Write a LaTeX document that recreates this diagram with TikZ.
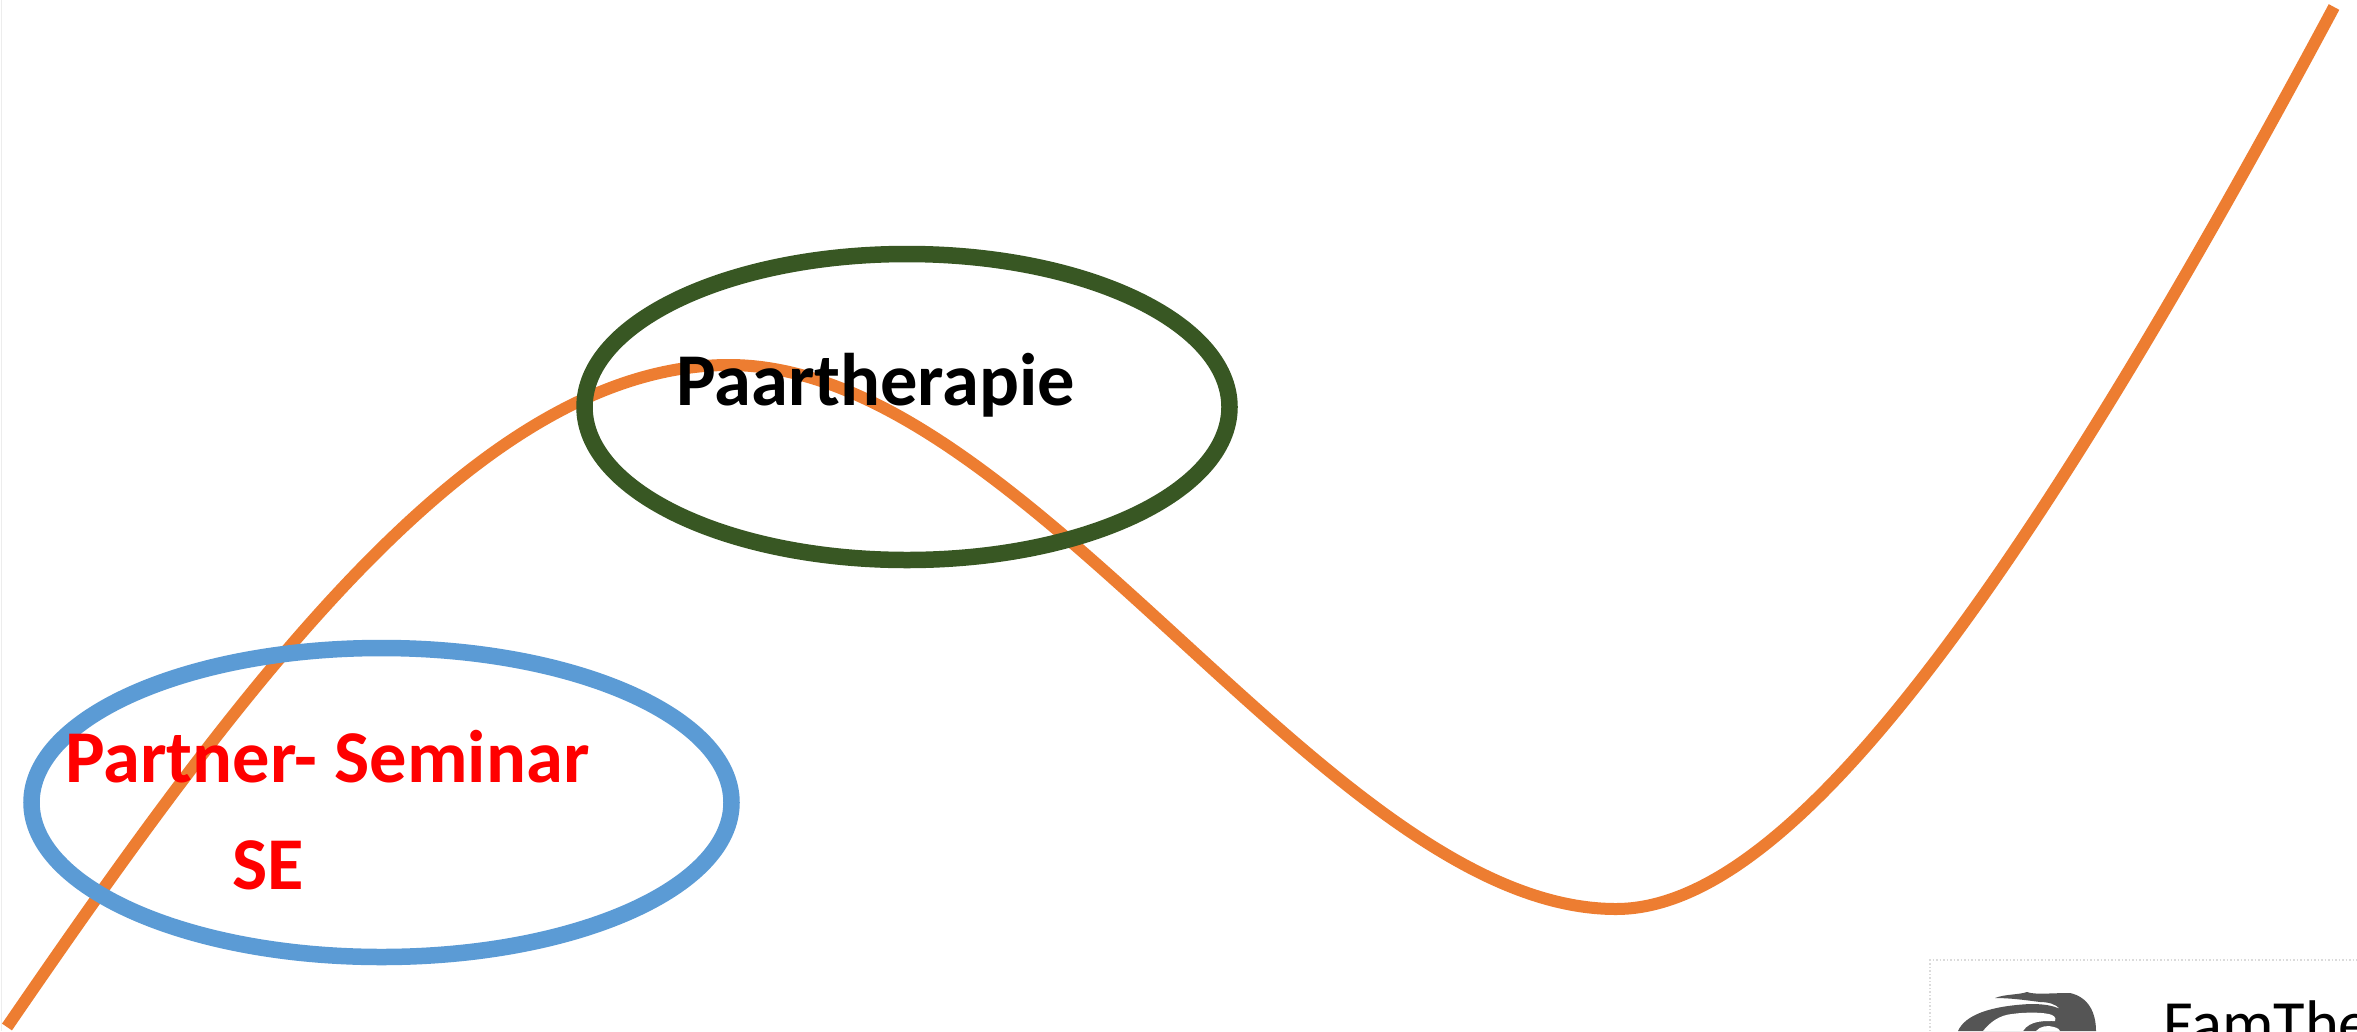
\documentclass[tikz,border=0pt]{standalone}
\usepackage{fontspec}
\setmainfont{Carlito}
\definecolor{curveorange}{HTML}{ED7D31}
\definecolor{ringblue}{HTML}{5B9BD5}
\definecolor{ringgreen}{HTML}{385723}
\definecolor{logogray}{HTML}{555555}
\tikzset{
  ring/.style={line width=16.5pt},
  lifecurve/.style={draw=curveorange,line width=12pt},
  bigbold/.style={font=\fontsize{74.5}{90}\selectfont\bfseries,inner sep=0pt,anchor=base west},
  brand/.style={font=\fontsize{64.5}{78}\selectfont,inner sep=0pt,anchor=base west,text=black},
  framedot/.style={draw=black!14,line width=1.5pt,dotted}
}
\begin{document}
\begin{tikzpicture}[x=1pt,y=-1pt]
\useasboundingbox (0,0) rectangle (2357,1031);
\clip (0,0) rectangle (2357,1031);
\fill[white] (0,0) rectangle (2357,1031);
\draw[black!7,line width=1pt] (1,0) -- (1,1031);
\coordinate (c0) at (7,1027);
\coordinate (peak) at (729,365);
\coordinate (valley) at (1616,909);
\coordinate (c3) at (2334,7);
\draw[lifecurve] (c0) .. controls (247,677) and (480,365) .. (peak)
  .. controls (1028,365) and (1330,909) .. (valley)
  .. controls (1775,909) and (1990,650) .. (c3);
\draw[ring,ringblue] (381.5,802.5) ellipse [x radius=350,y radius=154.5];
\draw[ring,ringgreen] (907,407) ellipse [x radius=322.5,y radius=153];
\node[bigbold,text=black] (paar) at (676,405) {Paartherapie};
\node[bigbold,text=red] (partner) at (65,782) {Partner- Seminar};
\node[bigbold,text=red] (se) at (232,889) {SE};
\draw[framedot] (1930,1031) -- (1930,960) -- (2357,960);
\node[brand] (fam) at (2163,1045) {FamThe};
\fill[logogray] (1958,1031) .. controls (1965,1015) and (1990,1006) .. (2030,1004)
  .. controls (2042,1004) and (2052,1005) .. (2060,1009)
  .. controls (2056,1004) and (2048,1002) .. (2040,1002)
  .. controls (2025,1000) and (2010,998) .. (1995,998)
  .. controls (2005,994) and (2018,995) .. (2027,992)
  .. controls (2035,995) and (2050,993) .. (2070,993)
  .. controls (2088,997) and (2096,1012) .. (2096,1031) -- cycle;
\fill[white] (1983,1031) .. controls (1990,1022) and (2000,1015) .. (2012,1014)
  .. controls (2025,1012) and (2045,1012) .. (2052,1015)
  .. controls (2056,1017) and (2056,1020) .. (2055,1021)
  .. controls (2045,1021) and (2030,1020) .. (2023,1031) -- cycle;
\fill[white] (2036,1031) .. controls (2040,1026) and (2048,1025) .. (2054,1027)
  .. controls (2058,1028) and (2060,1030) .. (2060,1031) -- cycle;
\end{tikzpicture}
\end{document}
